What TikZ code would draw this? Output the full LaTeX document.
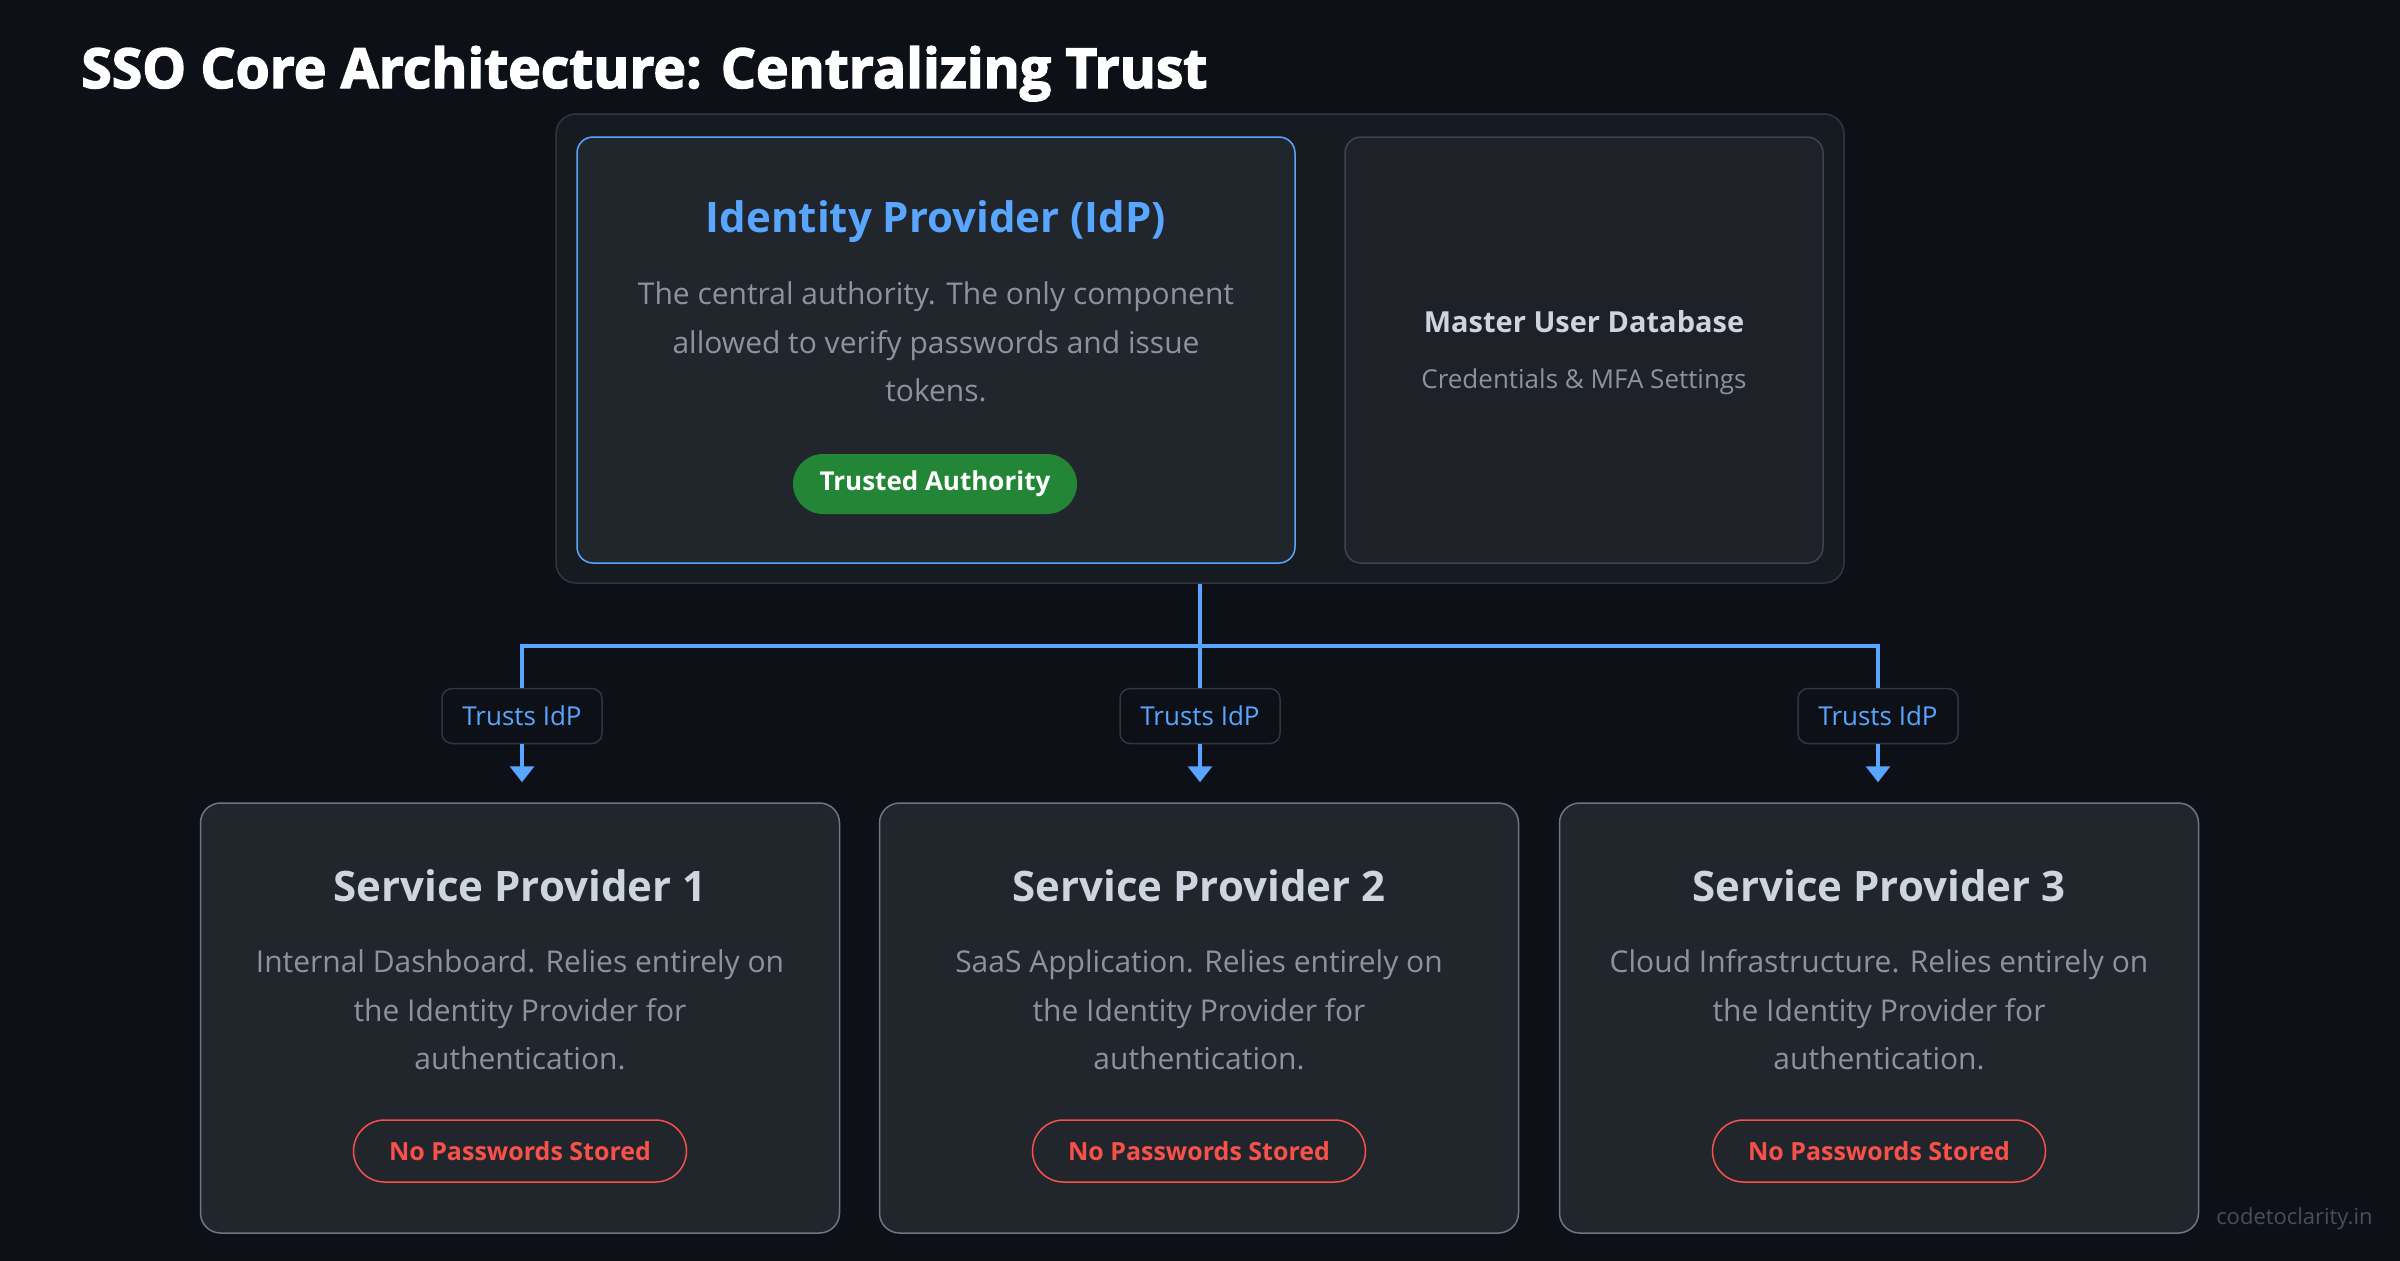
\documentclass[tikz,border=0pt]{standalone}
\usepackage{fontspec}
\setmainfont{Open Sans}
\newfontfamily\heavy{Open Sans}[FakeBold=2.6]
\usetikzlibrary{arrows.meta}
\definecolor{bg}{HTML}{0D1117}
\definecolor{panel}{HTML}{161B22}
\definecolor{panelline}{HTML}{30363D}
\definecolor{card}{HTML}{21262D}
\definecolor{dbcard}{HTML}{1E2228}
\definecolor{dbline}{HTML}{3D444D}
\definecolor{spline}{HTML}{6E7681}
\definecolor{accent}{HTML}{58A6FF}
\definecolor{muted}{HTML}{8B949E}
\definecolor{light}{HTML}{CDD5DF}
\definecolor{okgreen}{HTML}{238636}
\definecolor{warnred}{HTML}{F85149}
\definecolor{mark}{HTML}{484F58}
\tikzset{
  cardbox/.style={draw=spline, fill=card, line width=0.75pt, rounded corners=10pt, inner sep=0pt},
  bodytext/.style={text=muted, font=\fontsize{15}{24.2}\selectfont, align=center, inner sep=0pt},
  conn/.style={draw=accent, line width=1.6pt},
  trustlbl/.style={draw=panelline, fill=bg, line width=0.75pt, rounded corners=5pt, minimum width=80pt, minimum height=27.5pt, text=accent, font=\fontsize{13}{15}\selectfont, inner sep=0pt},
  redpill/.style={draw=warnred, line width=0.75pt, rounded corners=15.5pt, minimum width=166.5pt, minimum height=31pt, text=warnred, font=\bfseries\fontsize{12.5}{15}\selectfont, inner sep=0pt},
  sptitle/.style={text=light, font=\bfseries\fontsize{21}{25}\selectfont, inner sep=0pt},
  tip/.style={-{Triangle[width=12pt,length=8pt]}, shorten >=10pt}
}
\begin{document}
\begin{tikzpicture}[x=0.5pt,y=-0.5pt]
\useasboundingbox (0,0) rectangle (2400,1260);
\fill[bg] (-10,-10) rectangle (2410,1270);

% title
\node[anchor=base west, text=white, font=\heavy\bfseries\fontsize{27.6}{32}\selectfont, inner sep=0pt] (title) at (81,88) {SSO Core Architecture: Centralizing Trust};

% core panel
\node[draw=panelline, fill=panel, line width=0.75pt, rounded corners=10pt, minimum width=644pt, minimum height=234.5pt, inner sep=0pt] (core) at (1200,348.5) {};
\node[draw=accent, fill=card, line width=0.75pt, rounded corners=8pt, minimum width=359pt, minimum height=213pt, inner sep=0pt] (idp) at (936,350) {};
\node[draw=dbline, fill=dbcard, line width=0.75pt, rounded corners=8pt, minimum width=239pt, minimum height=213pt, inner sep=0pt] (db) at (1584,350) {};

\node[text=accent, font=\bfseries\fontsize{21}{25}\selectfont, inner sep=0pt] (idpt) at (936,222) {Identity Provider (IdP)};
\node[bodytext] (idpb) at (936,342) {The central authority. The only component\\allowed to verify passwords and issue\\tokens.};
\node[fill=okgreen, rounded corners=15pt, minimum width=142pt, minimum height=30pt, text=white, font=\bfseries\fontsize{13}{15}\selectfont, inner sep=0pt] (trusted) at (935,484) {Trusted Authority};

\node[text=light, font=\bfseries\fontsize{14.5}{18}\selectfont, inner sep=0pt] (dbt) at (1584,322) {Master User Database};
\node[text=muted, font=\fontsize{13}{16}\selectfont, inner sep=0pt] (dbs) at (1584,382) {Credentials \& MFA Settings};

% service providers
\node[cardbox, minimum width=319.5pt, minimum height=215pt] (sp1) at (520,1018) {};
\node[cardbox, minimum width=319.5pt, minimum height=215pt] (sp2) at (1199,1018) {};
\node[cardbox, minimum width=319.5pt, minimum height=215pt] (sp3) at (1879,1018) {};

\node[sptitle] (sp1t) at (520,886) {Service Provider 1};
\node[sptitle] (sp2t) at (1199,886) {Service Provider 2};
\node[sptitle] (sp3t) at (1879,886) {Service Provider 3};

\node[bodytext] (sp1b) at (520,1010) {Internal Dashboard. Relies entirely on\\the Identity Provider for\\authentication.};
\node[bodytext] (sp2b) at (1199,1010) {SaaS Application. Relies entirely on\\the Identity Provider for\\authentication.};
\node[bodytext] (sp3b) at (1879,1010) {Cloud Infrastructure. Relies entirely on\\the Identity Provider for\\authentication.};

\node[redpill] (sp1r) at (520,1151) {No Passwords Stored};
\node[redpill] (sp2r) at (1199,1151) {No Passwords Stored};
\node[redpill] (sp3r) at (1879,1151) {No Passwords Stored};

% trust labels
\node[trustlbl] (l1) at (522,716) {Trusts IdP};
\node[trustlbl] (l2) at (1200,716) {Trusts IdP};
\node[trustlbl] (l3) at (1878,716) {Trusts IdP};

% connectors
\coordinate (hub) at (1200,646);
\draw[conn] (core.south) -- (hub);
\draw[conn] (l1.north) |- (hub) -| (l3.north);
\draw[conn] (hub) -- (l2.north);
\draw[conn, tip] (l1.south) -- (l1.south |- sp1.north);
\draw[conn, tip] (l2.south) -- (l2.south |- sp2.north);
\draw[conn, tip] (l3.south) -- (l3.south |- sp3.north);

% watermark
\node[anchor=east, text=mark, font=\fontsize{11}{13}\selectfont, inner sep=0pt] (wm) at (2373,1219) {codetoclarity.in};
\end{tikzpicture}
\end{document}
